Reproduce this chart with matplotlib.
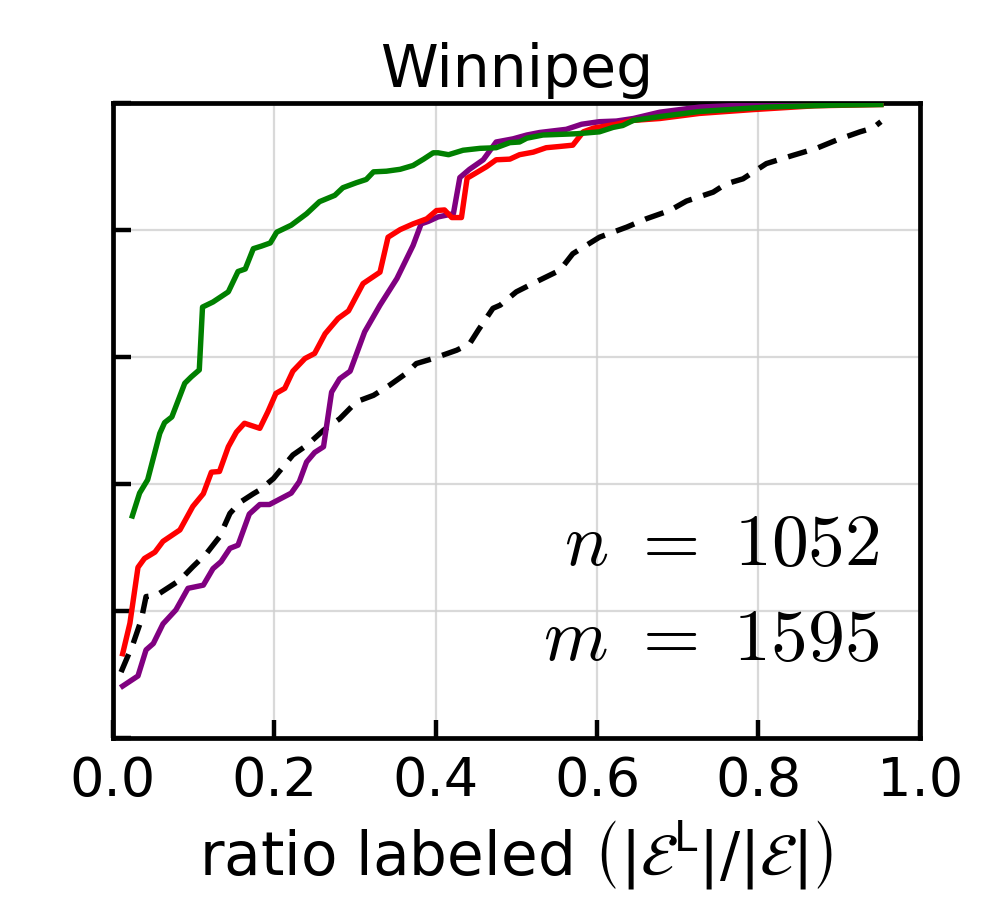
import matplotlib
matplotlib.use("Agg")
import matplotlib.pyplot as plt

plt.rcParams['mathtext.fontset'] = 'cm'
plt.rcParams['font.family'] = ['DejaVu Sans']

# ---- data ----
green_x = [0.024, 0.033, 0.043, 0.058, 0.064, 0.073, 0.089, 0.097, 0.107, 0.111, 0.124, 0.143,
           0.155, 0.164, 0.174, 0.184, 0.195, 0.203, 0.221, 0.240, 0.256, 0.275, 0.285, 0.302,
           0.314, 0.323, 0.339, 0.356, 0.372, 0.385, 0.397, 0.403, 0.416, 0.434, 0.455, 0.475,
           0.492, 0.504, 0.513, 0.533, 0.575, 0.603, 0.620, 0.632, 0.645, 0.678, 0.727, 0.810,
           0.893, 0.952]
green_y = [0.350, 0.386, 0.407, 0.480, 0.497, 0.506, 0.559, 0.569, 0.580, 0.679, 0.687, 0.703,
           0.735, 0.739, 0.771, 0.775, 0.780, 0.797, 0.808, 0.826, 0.845, 0.855, 0.867, 0.875,
           0.880, 0.892, 0.893, 0.896, 0.902, 0.912, 0.922, 0.922, 0.919, 0.926, 0.929, 0.930,
           0.938, 0.939, 0.945, 0.950, 0.952, 0.955, 0.962, 0.965, 0.973, 0.979, 0.987, 0.994,
           0.997, 0.998]

red_x = [0.012, 0.021, 0.031, 0.039, 0.052, 0.062, 0.083, 0.099, 0.112, 0.122, 0.132, 0.143,
         0.153, 0.163, 0.182, 0.192, 0.202, 0.213, 0.223, 0.238, 0.250, 0.263, 0.279, 0.292,
         0.310, 0.331, 0.341, 0.356, 0.372, 0.389, 0.401, 0.411, 0.420, 0.432, 0.439, 0.463,
         0.475, 0.492, 0.504, 0.521, 0.537, 0.554, 0.570, 0.583, 0.596, 0.624, 0.645, 0.678,
         0.727, 0.793, 0.870, 0.952]
red_y = [0.133, 0.181, 0.269, 0.283, 0.293, 0.310, 0.328, 0.365, 0.385, 0.419, 0.420, 0.459,
         0.482, 0.496, 0.488, 0.514, 0.543, 0.551, 0.578, 0.598, 0.606, 0.637, 0.661, 0.673,
         0.716, 0.734, 0.789, 0.801, 0.810, 0.818, 0.831, 0.832, 0.820, 0.820, 0.882, 0.900,
         0.911, 0.912, 0.919, 0.923, 0.930, 0.932, 0.934, 0.955, 0.961, 0.967, 0.973, 0.976,
         0.984, 0.990, 0.996, 0.998]

purple_x = [0.012, 0.031, 0.041, 0.050, 0.062, 0.078, 0.093, 0.112, 0.124, 0.134, 0.145, 0.155,
            0.169, 0.182, 0.194, 0.221, 0.231, 0.240, 0.250, 0.261, 0.271, 0.281, 0.294, 0.312,
            0.331, 0.352, 0.372, 0.382, 0.391, 0.403, 0.422, 0.430, 0.442, 0.459, 0.475, 0.496,
            0.513, 0.529, 0.562, 0.581, 0.603, 0.624, 0.645, 0.678, 0.727, 0.800, 0.952]
purple_y = [0.082, 0.098, 0.139, 0.149, 0.180, 0.202, 0.236, 0.241, 0.267, 0.278, 0.299, 0.304,
            0.353, 0.368, 0.368, 0.386, 0.404, 0.435, 0.450, 0.459, 0.545, 0.566, 0.578, 0.640,
            0.682, 0.724, 0.776, 0.810, 0.814, 0.821, 0.826, 0.883, 0.896, 0.911, 0.939, 0.944,
            0.950, 0.954, 0.959, 0.967, 0.971, 0.972, 0.976, 0.986, 0.994, 0.998, 1.000]

black_x = [0.010, 0.025, 0.035, 0.041, 0.054, 0.083, 0.099, 0.116, 0.132, 0.145, 0.157, 0.174,
           0.182, 0.199, 0.223, 0.240, 0.261, 0.281, 0.302, 0.323, 0.343, 0.364, 0.376, 0.397,
           0.426, 0.442, 0.453, 0.471, 0.480, 0.500, 0.525, 0.554, 0.570, 0.603, 0.637, 0.661,
           0.690, 0.711, 0.744, 0.760, 0.781, 0.810, 0.843, 0.872, 0.897, 0.926, 0.942, 0.952]
black_y = [0.104, 0.149, 0.186, 0.223, 0.225, 0.249, 0.270, 0.291, 0.317, 0.354, 0.371, 0.385,
           0.391, 0.409, 0.446, 0.461, 0.485, 0.503, 0.530, 0.540, 0.556, 0.575, 0.590, 0.598,
           0.611, 0.621, 0.643, 0.677, 0.682, 0.703, 0.719, 0.737, 0.763, 0.789, 0.805, 0.818,
           0.831, 0.846, 0.860, 0.873, 0.881, 0.905, 0.918, 0.929, 0.942, 0.955, 0.961, 0.971]

x_ticks = [0.0, 0.2, 0.4, 0.6, 0.8, 1.0]
x_tick_labels = ["0.0", "0.2", "0.4", "0.6", "0.8", "1.0"]
y_ticks = [0.0, 0.2, 0.4, 0.6, 0.8, 1.0]
title = "Winnipeg"
n_text = r"$n\ =\ 1052$"
m_text = r"$m\ =\ 1595$"

# ---- figure ----
fig = plt.figure(figsize=(9.91, 8.98), dpi=100)
ax = fig.add_axes([0.114, 0.178, 0.814, 0.707])

lw = 3.9
ax.plot(black_x, black_y, color='black', lw=lw, dashes=(3.6, 2.2), zorder=3)
ax.plot(purple_x, purple_y, color='purple', lw=lw, zorder=3)
ax.plot(red_x, red_y, color='red', lw=lw, zorder=4)
ax.plot(green_x, green_y, color='green', lw=lw, zorder=5)

ax.set_xlim(0, 1)
ax.set_ylim(0, 1)
ax.set_xticks(x_ticks)
ax.set_xticklabels(x_tick_labels)
ax.set_yticks(y_ticks)
ax.set_yticklabels([])
ax.grid(True, color='#d0d0d0', lw=1.6, alpha=0.8)
ax.tick_params(direction='in', length=13, width=3.2, labelsize=39, pad=12,
               top=False, right=False)
for s in ax.spines.values():
    s.set_linewidth(3.4)

ax.set_title(title, fontsize=42, pad=12)
ax.set_xlabel(r"ratio labeled $\left(|\mathcal{E}^{\mathsf{L}}|/|\mathcal{E}|\right)$",
              fontsize=43, labelpad=8, math_fontfamily='dejavusans')

ax.text(0.95, 0.272, n_text, transform=ax.transAxes, ha='right', va='baseline', fontsize=53)
ax.text(0.95, 0.123, m_text, transform=ax.transAxes, ha='right', va='baseline', fontsize=53)

fig.savefig("out.png", dpi=100)
